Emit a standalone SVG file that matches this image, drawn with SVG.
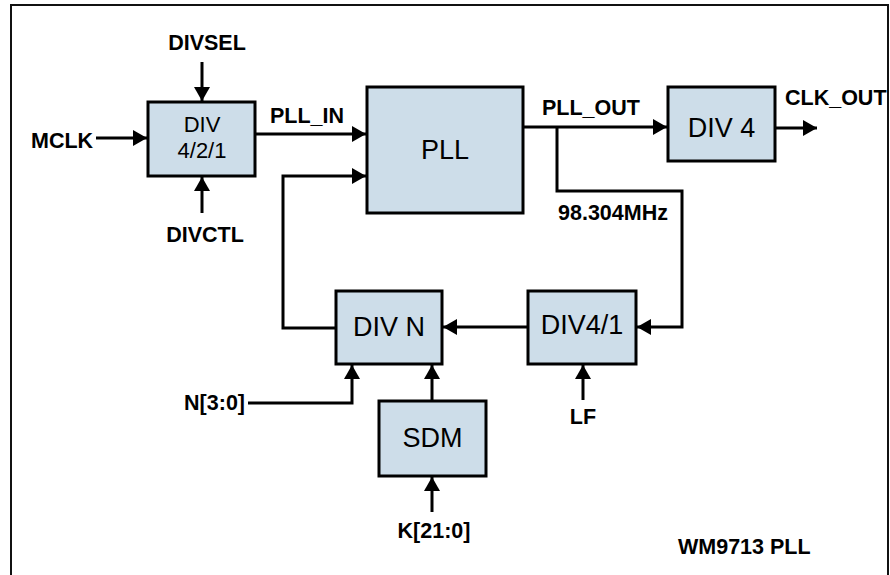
<svg xmlns="http://www.w3.org/2000/svg" width="890" height="575" viewBox="0 0 890 575">
<style>
.box{fill:#cddde9;stroke:#000;stroke-width:3}
.wire{fill:none;stroke:#000;stroke-width:3}
.lbl{font-family:"Liberation Sans",Arial,sans-serif;font-weight:bold;font-size:21.5px;fill:#000}
.bt{font-family:"Liberation Sans",Arial,sans-serif;font-size:27px;fill:#000;text-anchor:middle}
.bs{font-family:"Liberation Sans",Arial,sans-serif;font-size:22px;fill:#000;text-anchor:middle}
</style>
<defs>
<marker id="ah" viewBox="0 0 14 16" refX="14" refY="8" markerWidth="14" markerHeight="16" markerUnits="userSpaceOnUse" orient="auto">
<path d="M0,0 L14,8 L0,16 z" fill="#000"/>
</marker>
</defs>
<rect x="0" y="0" width="890" height="575" fill="#fff"/>
<rect x="11" y="5" width="877" height="585" fill="none" stroke="#111" stroke-width="2"/>

<g id="connectors">
<line class="wire" x1="96" y1="138" x2="147" y2="138" marker-end="url(#ah)"/>
<line class="wire" x1="202" y1="62" x2="202" y2="101" marker-end="url(#ah)"/>
<line class="wire" x1="202" y1="213" x2="202" y2="177" marker-end="url(#ah)"/>
<line class="wire" x1="255" y1="134" x2="366" y2="134" marker-end="url(#ah)"/>
<path class="wire" d="M336,328 H283 V176 H366" marker-end="url(#ah)"/>
<line class="wire" x1="523" y1="127" x2="667" y2="127" marker-end="url(#ah)"/>
<path class="wire" d="M557,127 V191 H682 V327 H637" marker-end="url(#ah)"/>
<line class="wire" x1="775" y1="128" x2="817" y2="128" marker-end="url(#ah)"/>
<line class="wire" x1="528" y1="327" x2="443" y2="327" marker-end="url(#ah)"/>
<path class="wire" d="M248,403 H352 V365" marker-end="url(#ah)"/>
<line class="wire" x1="432" y1="401" x2="432" y2="365" marker-end="url(#ah)"/>
<line class="wire" x1="432" y1="512" x2="432" y2="477" marker-end="url(#ah)"/>
<line class="wire" x1="583" y1="400" x2="583" y2="365" marker-end="url(#ah)"/>
</g>

<g id="labels">
<text class="lbl" x="207" y="50" text-anchor="middle">DIVSEL</text>
<text class="lbl" x="31" y="148">MCLK</text>
<text class="lbl" x="205" y="242" text-anchor="middle">DIVCTL</text>
<text class="lbl" x="270" y="123">PLL_IN</text>
<text class="lbl" x="542" y="115">PLL_OUT</text>
<text class="lbl" x="558" y="220">98.304MHz</text>
<text class="lbl" x="785" y="105">CLK_OUT</text>
<text class="lbl" x="245" y="410" text-anchor="end">N[3:0]</text>
<text class="lbl" x="434" y="538" text-anchor="middle">K[21:0]</text>
<text class="lbl" x="583" y="424" text-anchor="middle">LF</text>
<text class="lbl" x="678" y="554">WM9713 PLL</text>
</g>

<g id="div421">
<rect class="box" x="148" y="102" width="107" height="74"/>
<text class="bs" x="202" y="132">DIV</text>
<text class="bs" x="202" y="158">4/2/1</text>
</g>
<g id="pll">
<rect class="box" x="367" y="87" width="156" height="126"/>
<text class="bt" x="445" y="159">PLL</text>
</g>
<g id="div4">
<rect class="box" x="668" y="87" width="107" height="74"/>
<text class="bt" x="721.5" y="137">DIV 4</text>
</g>
<g id="divn">
<rect class="box" x="336" y="291" width="106" height="73"/>
<text class="bt" x="389" y="336">DIV N</text>
</g>
<g id="div41">
<rect class="box" x="528" y="291" width="108" height="73"/>
<text class="bt" x="582" y="334">DIV4/1</text>
</g>
<g id="sdm">
<rect class="box" x="379" y="401" width="107" height="75"/>
<text class="bt" x="432.5" y="447">SDM</text>
</g>
</svg>
